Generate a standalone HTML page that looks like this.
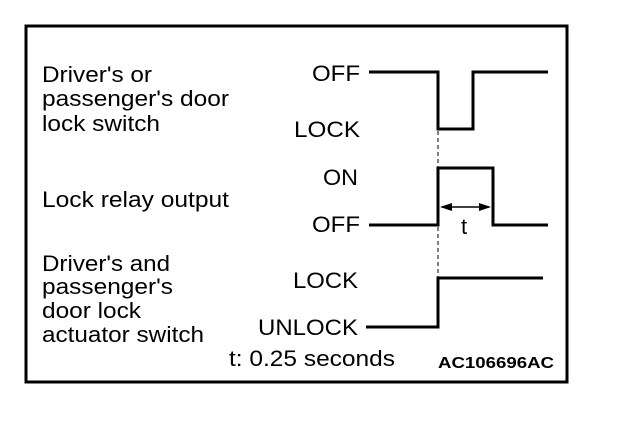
<!DOCTYPE html>
<html><head><style>
body{margin:0;background:#fff;}
svg text{font-family:"Liberation Sans",Arial,sans-serif;fill:#000;}
</style></head><body>
<svg width="624" height="436" xmlns="http://www.w3.org/2000/svg">
<rect x="26" y="26" width="541" height="356" fill="none" stroke="#000" stroke-width="3"/>
<g font-size="22" lengthAdjust="spacingAndGlyphs">
<text x="42" y="82" textLength="110" lengthAdjust="spacingAndGlyphs">Driver's or</text>
<text x="42" y="106" textLength="187" lengthAdjust="spacingAndGlyphs">passenger's door</text>
<text x="42" y="131" textLength="118" lengthAdjust="spacingAndGlyphs">lock switch</text>
<text x="42" y="207" textLength="187" lengthAdjust="spacingAndGlyphs">Lock relay output</text>
<text x="42" y="271" textLength="128" lengthAdjust="spacingAndGlyphs">Driver's and</text>
<text x="42" y="294" textLength="131" lengthAdjust="spacingAndGlyphs">passenger's</text>
<text x="42" y="318" textLength="99" lengthAdjust="spacingAndGlyphs">door lock</text>
<text x="42" y="342" textLength="162" lengthAdjust="spacingAndGlyphs">actuator switch</text>
<text x="312" y="81" textLength="48" lengthAdjust="spacingAndGlyphs">OFF</text>
<text x="294" y="137" textLength="66" lengthAdjust="spacingAndGlyphs">LOCK</text>
<text x="323" y="185" textLength="35" lengthAdjust="spacingAndGlyphs">ON</text>
<text x="312" y="232" textLength="48" lengthAdjust="spacingAndGlyphs">OFF</text>
<text x="293" y="288" textLength="65" lengthAdjust="spacingAndGlyphs">LOCK</text>
<text x="258" y="335" textLength="100" lengthAdjust="spacingAndGlyphs">UNLOCK</text>
<text x="229" y="366" textLength="166" lengthAdjust="spacingAndGlyphs">t: 0.25 seconds</text>
<text x="461" y="234">t</text>
</g>
<text x="438" y="368" font-size="16" font-weight="bold" textLength="116" lengthAdjust="spacingAndGlyphs">AC106696AC</text>
<g fill="none" stroke="#000" stroke-width="3">
<polyline points="369,72 438,72 438,129 473,129 473,72 548,72"/>
<polyline points="369,225 438,225 438,168 493,168 493,225 548,225"/>
<polyline points="366,327 438,327 438,278 543,278"/>
</g>
<g stroke="#000" stroke-width="1" stroke-dasharray="4,3">
<line x1="438" y1="131" x2="438" y2="167"/>
<line x1="438" y1="227" x2="438" y2="277"/>
</g>
<line x1="442" y1="207" x2="489" y2="207" stroke="#000" stroke-width="1.5"/>
<polygon points="440,207 452,203 452,211" fill="#000"/>
<polygon points="491,207 479,203 479,211" fill="#000"/>
</svg>
</body></html>
